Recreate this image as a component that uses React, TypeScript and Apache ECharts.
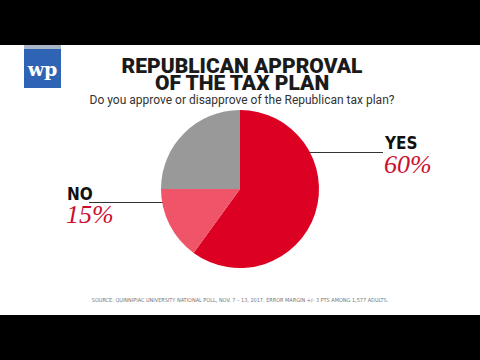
import React, { useEffect, useRef } from "react";
import * as echarts from "echarts";

const categories = ["YES", "NO", "OTHER"];
const values = [60, 15, 25];
const colors = ["#dc0023", "#ef5468", "#999999"];

const CX = 240;
const CY = 189;
const R = 79;

export default function App() {
  const ref = useRef<HTMLDivElement>(null);
  useEffect(() => {
    if (!ref.current) return;
    const chart = echarts.init(ref.current, undefined, { renderer: "svg" });
    const yesPct = values[0] + "%";
    const noPct = values[1] + "%";
    const labelFont = "bold 17px 'DejaVu Sans Condensed'";
    const pctFont = "italic 26px 'Liberation Serif'";
    chart.setOption({
      animation: false,
      backgroundColor: "#000000",
      graphic: [
        { type: "rect", z: -10, shape: { x: 0, y: 45, width: 480, height: 270 }, style: { fill: "#ffffff" } },
        // logo
        { type: "rect", shape: { x: 24, y: 45, width: 37, height: 43 }, style: { fill: "#2f64b4" } },
        { type: "rect", shape: { x: 24, y: 45, width: 37, height: 4 }, style: { fill: "#a9b6c8" } },
        {
          type: "text", x: 42.5, y: 69,
          style: { text: "wp", fill: "#ffffff", font: "bold 19px 'DejaVu Serif'", align: "center", verticalAlign: "middle" },
        },
        // title
        {
          type: "text", x: 242, y: 74.5,
          style: {
            text: "REPUBLICAN APPROVAL\nOF THE TAX PLAN", fill: "#1a1a1a", font: "900 21px 'Roboto'",
            lineHeight: 17, align: "center", verticalAlign: "middle",
          },
        },
        {
          type: "text", x: 242, y: 99.5,
          style: { text: "Do you approve or disapprove of the Republican tax plan?", fill: "#333333", font: "12px 'Roboto'", align: "center", verticalAlign: "middle" },
        },
        // YES annotation
        { type: "line", shape: { x1: 269, y1: 152.5, x2: 383, y2: 152.5 }, style: { stroke: "#333333", lineWidth: 1 } },
        { type: "circle", shape: { cx: 269, cy: 152.5, r: 2 }, style: { fill: "#222222" } },
        {
          type: "text", x: 385, y: 143,
          style: { text: categories[0], fill: "#111111", font: labelFont, align: "left", verticalAlign: "middle" },
        },
        {
          type: "text", x: 384, y: 164,
          style: { text: yesPct, fill: "#cc0f2e", font: pctFont, align: "left", verticalAlign: "middle" },
        },
        // NO annotation
        { type: "line", shape: { x1: 89, y1: 202.5, x2: 204, y2: 202.5 }, style: { stroke: "#333333", lineWidth: 1 } },
        { type: "circle", shape: { cx: 204, cy: 202.5, r: 2 }, style: { fill: "#222222" } },
        {
          type: "text", x: 67, y: 194,
          style: { text: categories[1], fill: "#111111", font: labelFont, align: "left", verticalAlign: "middle" },
        },
        {
          type: "text", x: 66, y: 214,
          style: { text: noPct, fill: "#cc0f2e", font: pctFont, align: "left", verticalAlign: "middle" },
        },
        // source
        {
          type: "text", x: 240, y: 300,
          style: {
            text: "SOURCE: QUINNIPIAC UNIVERSITY NATIONAL POLL, NOV. 7 \u2013 13, 2017. ERROR MARGIN +/- 3 PTS AMONG 1,577 ADULTS.",
            fill: "#777777", font: "5.5px 'DejaVu Sans Condensed'", align: "center", verticalAlign: "middle",
          },
        },
      ],
      series: [
        {
          type: "pie",
          center: [CX, CY],
          radius: [0, R],
          startAngle: 90,
          clockwise: true,
          silent: true,
          label: { show: false },
          labelLine: { show: false },
          itemStyle: { borderWidth: 0 },
          data: categories.map((c, i) => ({
            name: c,
            value: values[i],
            itemStyle: { color: colors[i] },
          })),
        },
      ],
    });
    return () => chart.dispose();
  }, []);
  return <div ref={ref} style={{ position: "absolute", left: 0, top: 0, width: 480, height: 360 }} />;
}
